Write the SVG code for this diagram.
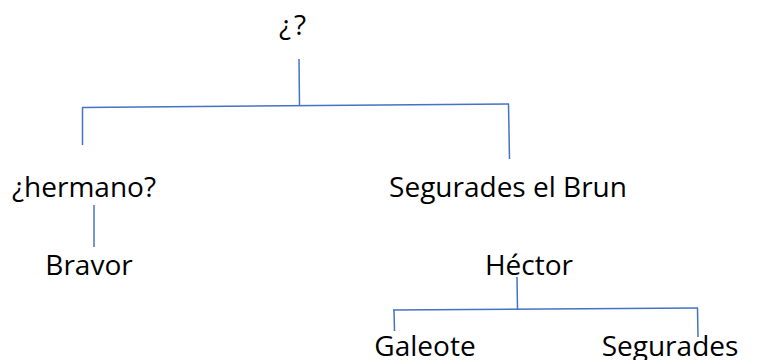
<svg xmlns="http://www.w3.org/2000/svg" width="760" height="360" viewBox="0 0 760 360">
<style>
text{font-family:"Open Sans","Noto Sans","Liberation Sans",sans-serif;font-size:28px;fill:#000;text-anchor:middle}
.c line{stroke:#4472C4;stroke-width:1.5;fill:none}
</style>
<rect width="760" height="360" fill="#fff"/>
<g class="c" id="connectors">
<line x1="299" y1="59" x2="299.5" y2="106"/>
<line x1="82" y1="107.5" x2="509" y2="104"/>
<line x1="82.5" y1="107.5" x2="82.5" y2="145"/>
<line x1="508.5" y1="104" x2="509.5" y2="159"/>
<line x1="94" y1="205" x2="94" y2="247"/>
<line x1="517" y1="277" x2="517.5" y2="310"/>
<line x1="393" y1="310" x2="698" y2="308"/>
<line x1="394" y1="310" x2="394.5" y2="331"/>
<line x1="697.5" y1="308" x2="698" y2="337"/>
</g>
<g id="root"><text x="294" y="35" letter-spacing="3">¿?</text></g>
<g id="hermano"><text x="84" y="197">¿hermano?</text></g>
<g id="segurades-brun"><text x="508" y="197">Segurades el Brun</text></g>
<g id="bravor"><text x="89" y="275">Bravor</text></g>
<g id="hector"><text x="529" y="275">Héctor</text></g>
<g id="galeote"><text x="425" y="356">Galeote</text></g>
<g id="segurades"><text x="670" y="356">Segurades</text></g>
</svg>
